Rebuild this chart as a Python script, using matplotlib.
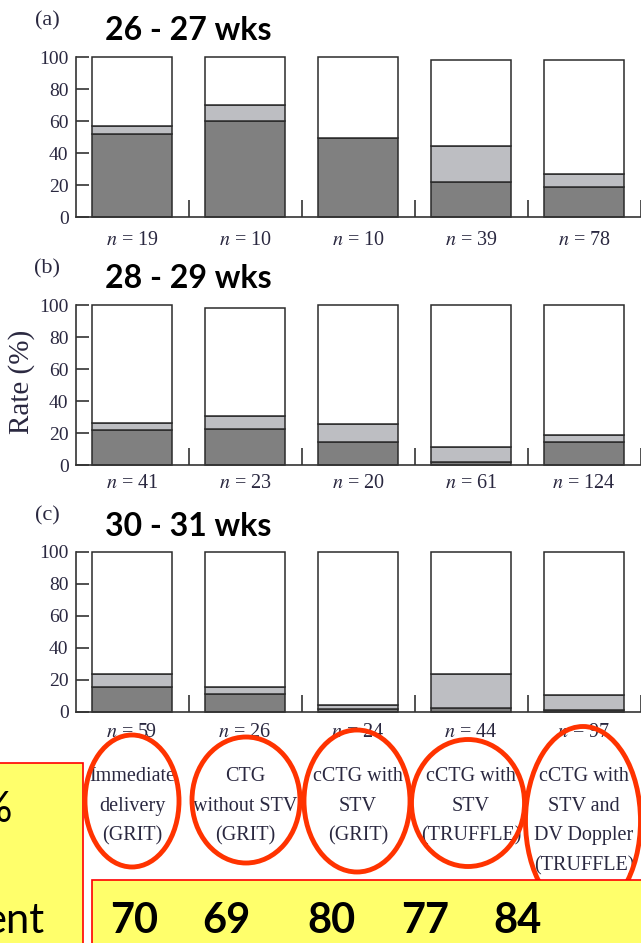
import numpy as np
import matplotlib
matplotlib.use("Agg")
import matplotlib.pyplot as plt
from matplotlib.patches import Ellipse, Rectangle
from matplotlib.transforms import blended_transform_factory

plt.rcParams['font.family'] = ['Liberation Serif', 'DejaVu Serif']
plt.rcParams['mathtext.fontset'] = 'stix'

### data
strategies = ["Immediate\ndelivery\n(GRIT)",
              "CTG\nwithout STV\n(GRIT)",
              "cCTG with\nSTV\n(GRIT)",
              "cCTG with\nSTV\n(TRUFFLE)",
              "cCTG with\nSTV and\nDV Doppler\n(TRUFFLE)"]
panel_tags = ["(a)", "(b)", "(c)"]
gest_ages = ["26 - 27 wks", "28 - 29 wks", "30 - 31 wks"]

# rate (%) of the dark and light grey segments, and bar total
dark = [[52, 60, 49.5, 22, 18.5],
        [22, 22.5, 14.5, 2, 14.5],
        [15.5, 11, 1.8, 2.5, 1.2]]
light = [[5, 10, 0, 22.5, 8.5],
         [4.5, 8, 11, 9.5, 4.5],
         [8, 4.5, 2.7, 21, 9.2]]
total = [[100, 100, 100, 98, 98],
         [100, 98, 100, 100, 100],
         [100, 100, 100, 100, 100]]
n_cases = [[19, 10, 10, 39, 78],
           [41, 23, 20, 61, 124],
           [59, 26, 24, 44, 97]]
agreement = [70, 69, 80, 77, 84]

DARK = '#808080'
LIGHT = '#bdbec2'
EDGE = '#2b2b2b'
INK = '#2a2840'
YELLOW = '#ffff6b'
RED = '#ff3300'

W, H = 641, 943
fig = plt.figure(figsize=(W / 100, H / 100), dpi=100)


def fx(px):
    return px / W


def fy(py):
    return 1 - py / H


panel_tops = [57, 305, 552]
n_offsets = [17, 13, 15]   # points below the baseline for the n = ... labels
plot_h = 160
x = np.arange(len(strategies))

axes = []
for k in range(3):
    ax = fig.add_axes([fx(75.5), fy(panel_tops[k] + plot_h), 565 / W, plot_h / H])
    d = np.array(dark[k])
    l = np.array(light[k])
    t = np.array(total[k])
    style = dict(width=0.71, edgecolor=EDGE, linewidth=1.1, clip_on=False)
    ax.bar(x, d, color=DARK, **style)
    ax.bar(x, l, bottom=d, color=LIGHT, **style)
    ax.bar(x, t - d - l, bottom=d + l, color='white', **style)

    ax.set_xlim(-0.5, 4.5)
    ax.set_ylim(0, 100)
    for s in ['top', 'right']:
        ax.spines[s].set_visible(False)
    for s in ['left', 'bottom']:
        ax.spines[s].set_linewidth(1.2)
        ax.spines[s].set_color('#333333')
    ax.set_yticks(range(0, 101, 20))
    ax.tick_params(axis='y', direction='in', length=9, width=1.2, pad=5,
                   labelsize=14, labelcolor=INK, color='#333333')
    ax.set_xticks(x + 0.5)
    ax.set_xticklabels([])
    ax.tick_params(axis='x', direction='in', length=12, width=1.2, color='#333333')

    for i, n in enumerate(n_cases[k]):
        ax.annotate(f"$n$ = {n}", (i, 0), xytext=(0, -n_offsets[k]),
                    textcoords='offset points', ha='center', va='center',
                    fontsize=14.5, color=INK)

    fig.text(fx(47), fy(panel_tops[k] - 36), panel_tags[k], ha='center', va='center',
             fontsize=16, color=INK)
    fig.text(fx(105), fy(panel_tops[k] - 26), gest_ages[k], ha='left', va='center',
             family=['Lato', 'DejaVu Sans'], weight='bold', fontsize=23, color='black')
    axes.append(ax)

fig.text(fx(22), fy(382), "Rate (%)", rotation=90, ha='center', va='center',
         fontsize=21, color=INK)

# strategy names under the last panel
ax_c = axes[-1]
trans = blended_transform_factory(ax_c.transData, fig.transFigure)
for i, name in enumerate(strategies):
    ax_c.text(i, fy(767), name, transform=trans, ha='center', va='top',
              fontsize=14.5, linespacing=1.76, color=INK)

# slide overlay: circled strategies and yellow boxes
ov = fig.add_axes([0, 0, 1, 1])
ov.set_xlim(0, W)
ov.set_ylim(H, 0)
ov.axis('off')

rings = [(132, 801, 94, 132), (246, 800, 108, 126), (357, 801, 106, 142),
         (468, 803, 113, 127), (583, 821, 115, 189)]
for j, (cx, cy, w, h) in enumerate(rings):
    ov.add_patch(Ellipse((cx, cy), w, h, fill=False, edgecolor=RED, linewidth=3.5,
                         zorder=2 if j == 4 else 5))

ov.add_patch(Rectangle((-5, 763), 88, 200, facecolor=YELLOW, edgecolor='#ff0000',
                       linewidth=1.2, zorder=3))
ov.add_patch(Rectangle((92, 880), 580, 80, facecolor=YELLOW, edgecolor='#ff0000',
                       linewidth=1.2, zorder=3))

ov.text(12, 810, "%", ha='right', va='center', family=['Lato', 'DejaVu Sans'],
        fontsize=30, zorder=4)
ov.text(44, 933, "ent", ha='right', va='baseline', family=['Lato', 'DejaVu Sans'],
        fontsize=30, zorder=4)

# agreement figures typed along the bottom box
starts = [110, 202, 307, 401, 493]
for px, v in zip(starts, agreement):
    ov.text(px, 933, str(v), ha='left', va='baseline', family=['Lato', 'DejaVu Sans'],
            weight='bold', fontsize=30, zorder=4)

fig.savefig('out.png', dpi=100)
